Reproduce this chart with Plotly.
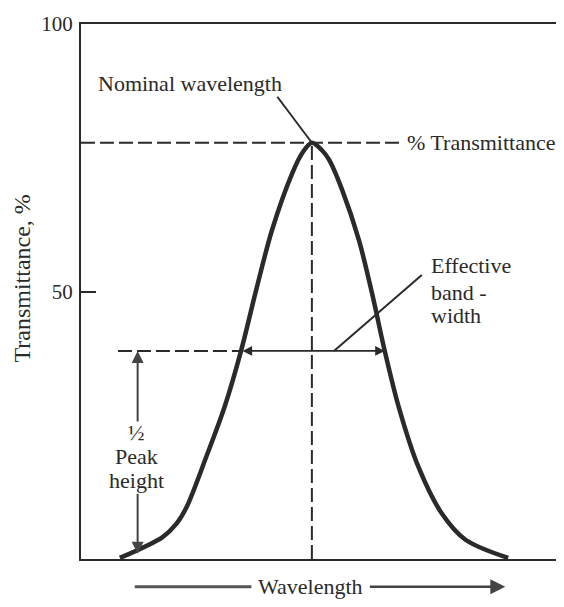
import numpy as np
import plotly.graph_objects as go

# Wavelength (arbitrary units, 0-100 across the frame) and % transmittance
wavelength = [8.1, 17.0, 19.9, 22.0, 26.1, 29.9, 33.4, 36.5, 39.8, 44.0, 46.1, 48.1,
              50.2, 51.7, 54.4, 57.9, 60.8, 63.1, 66.2, 70.3, 75.1, 80.1, 89.0]
transmittance = [0.2, 4.1, 6.6, 9.7, 19.1, 28.4, 39.1, 50.3, 61.5, 72.1, 75.9, 77.8,
                 76.4, 74.6, 69.0, 59.6, 49.0, 39.6, 28.4, 17.2, 8.6, 3.6, 0.2]
y_tick_vals = [50, 100]
y_tick_text = ["50", "100"]

FONT = "Liberation Serif, Times New Roman, serif"
INK = "#2a2a2a"
FS = 22

wl = np.array(wavelength)
tr = np.array(transmittance)
ipk = int(np.argmax(tr))
x_pk, y_pk = wl[ipk], tr[ipk]
half = y_pk / 2.0
# half-height crossings on each flank
x_left = float(np.interp(half, tr[:ipk + 1], wl[:ipk + 1]))
x_right = float(np.interp(half, tr[ipk:][::-1], wl[ipk:][::-1]))

fig = go.Figure()
fig.add_trace(go.Scatter(
    x=wavelength, y=transmittance, mode="lines",
    line=dict(color=INK, width=4.5, shape="spline", smoothing=0.9),
    hoverinfo="skip", showlegend=False))

dash = "14px,5px"
shapes = [
    dict(type="line", xref="x", yref="y", x0=0, x1=67.2, y0=y_pk, y1=y_pk,
         line=dict(color=INK, width=2, dash=dash)),
    dict(type="line", xref="x", yref="y", x0=x_pk, x1=x_pk, y0=0, y1=y_pk,
         line=dict(color=INK, width=2, dash=dash)),
    dict(type="line", xref="x", yref="y", x0=7.7, x1=x_left, y0=half, y1=half,
         line=dict(color=INK, width=2, dash=dash)),
    dict(type="line", xref="x", yref="y", x0=40.9, y0=86.4, x1=x_pk, y1=y_pk,
         line=dict(color=INK, width=2)),
    dict(type="line", xref="x", yref="y", x0=71.0, y0=53.1, x1=52.7, y1=half,
         line=dict(color=INK, width=2)),
    dict(type="line", xref="paper", yref="paper", x0=0.112, x1=0.355, y0=-0.052, y1=-0.052,
         line=dict(color="#555", width=3)),
]


def txt(s, x, y, xanchor="center", **kw):
    return dict(text=s, x=x, y=y, xref="x", yref="y", xanchor=xanchor, yanchor="middle",
                showarrow=False, font=dict(family=FONT, size=FS, color=INK), **kw)


annotations = [
    txt("Nominal wavelength", 22.8, 88.8),
    txt("% Transmittance", 67.6, y_pk, xanchor="left"),
    txt("Effective", 72.4, 54.8, xanchor="left"),
    txt("band -", 72.4, 49.9, xanchor="left"),
    txt("width", 72.4, 45.6, xanchor="left"),
    txt("½", 11.6, 23.7),
    txt("Peak", 11.6, 19.1),
    txt("height", 11.6, 14.6),
    dict(text="", x=x_right, y=half, ax=x_left, ay=half, xref="x", yref="y",
         axref="x", ayref="y", showarrow=True, arrowhead=2, arrowsize=1.2,
         arrowwidth=1.6, arrowcolor=INK, arrowside="end+start", standoff=0, startstandoff=0),
    dict(text="", x=11.8, y=half, ax=11.8, ay=25.4, xref="x", yref="y",
         axref="x", ayref="y", showarrow=True, arrowhead=2, arrowsize=1.2,
         arrowwidth=2, arrowcolor="#444"),
    dict(text="", x=11.8, y=1.0, ax=11.8, ay=12.5, xref="x", yref="y",
         axref="x", ayref="y", showarrow=True, arrowhead=2, arrowsize=1.2,
         arrowwidth=2, arrowcolor="#444"),
    dict(text="Transmittance, %", x=-0.122, y=0.525, xref="paper", yref="paper",
         xanchor="center", yanchor="middle",
         textangle=-90, showarrow=False, font=dict(family=FONT, size=24, color=INK)),
    dict(text="Wavelength", x=0.478, y=-0.052, xref="paper", yref="paper",
         xanchor="center", yanchor="middle",
         showarrow=False, font=dict(family=FONT, size=FS, color=INK)),
    dict(text="", x=0.884, y=-0.052, xref="paper", yref="paper", ax=-137, ay=0,
         showarrow=True, arrowhead=2, arrowsize=1.2, arrowwidth=2.5, arrowcolor="#444"),
]

# page body has an 8px margin, so the figure is sized to fit the 564x607 window
fig.update_layout(
    width=556, height=599,
    margin=dict(l=73, r=1, t=16, b=48),
    paper_bgcolor="white", plot_bgcolor="white",
    showlegend=False,
    shapes=shapes, annotations=annotations,
    font=dict(family=FONT, size=FS, color=INK),
)
fig.update_xaxes(range=[0, 100], showgrid=False, zeroline=False, showticklabels=False,
                 ticks="", showline=True, mirror=True, linecolor=INK, linewidth=2.2)
fig.update_yaxes(range=[0, 100], showgrid=False, zeroline=False,
                 tickvals=y_tick_vals, ticktext=y_tick_text, ticks="inside", ticklen=15,
                 tickwidth=2, tickcolor=INK, ticklabelstandoff=2,
                 tickfont=dict(family=FONT, size=21, color=INK),
                 showline=True, mirror=True, linecolor=INK, linewidth=2.2)

fig.write_html("out.html")
